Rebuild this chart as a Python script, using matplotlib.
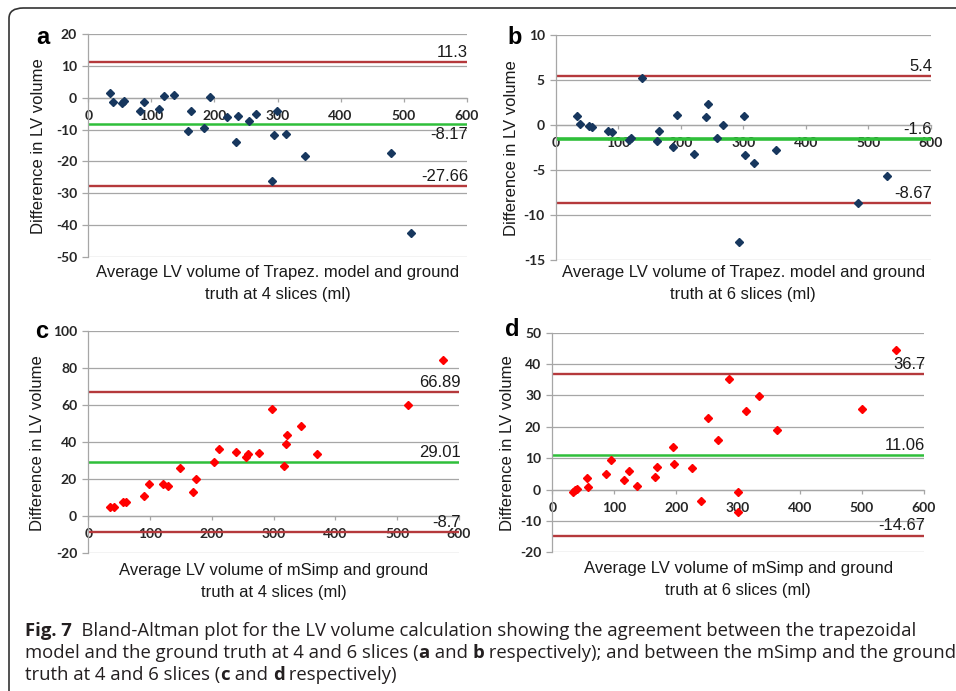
import matplotlib
matplotlib.use("Agg")
import matplotlib.pyplot as plt
from matplotlib import font_manager as fm
from matplotlib.patches import FancyBboxPatch

# ---------------- data ----------------
a_x = [34.4, 38.6, 52.9, 56.6, 81.9, 88.8, 112.0, 120.0, 135.9, 158.6, 163.3, 184.0, 193.0,
       219.4, 234.7, 236.8, 254.8, 265.4, 290.7, 294.4, 298.7, 312.9, 343.6, 479.4, 511.2]
a_y = [1.5, -1.4, -1.6, -0.9, -4.1, -1.2, -3.5, 0.7, 0.9, -10.4, -4.0, -9.5, 0.4,
       -6.0, -14.0, -5.6, -7.3, -5.2, -26.2, -11.6, -4.1, -11.3, -18.4, -17.5, -42.6]
a_lines = [11.3, -8.17, -27.66]

b_x = [34.2, 38.4, 52.8, 57.1, 82.7, 90.2, 117.4, 120.1, 137.7, 162.3, 165.5, 186.8, 193.2,
       221.0, 240.2, 242.9, 258.4, 268.0, 293.6, 300.5, 302.1, 317.1, 351.8, 483.6, 529.5]
b_y = [0.99, 0.06, -0.13, -0.27, -0.65, -0.79, -1.65, -1.42, 5.25, -1.79, -0.72, -2.43, 1.10,
       -3.28, 0.84, 2.32, -1.42, -0.02, -13.07, 1.02, -3.32, -4.21, -2.80, -8.66, -5.65]
b_lines = [5.4, -1.6, -8.67]

c_x = [35.6, 41.5, 56.7, 60.4, 90.1, 98.2, 121.4, 128.4, 148.9, 169.4, 174.8, 202.9, 211.0,
       239.6, 255.2, 258.5, 275.7, 296.8, 317.3, 320.0, 322.2, 343.7, 370.7, 517.5, 574.7]
c_y = [4.5, 4.5, 7.2, 7.4, 10.8, 17.1, 17.1, 16.0, 25.9, 13.0, 19.6, 28.8, 36.0,
       34.6, 31.5, 33.2, 33.9, 57.5, 26.7, 38.7, 43.4, 48.6, 33.5, 60.0, 84.3]
c_lines = [66.89, 29.01, -8.7]

d_x = [33.9, 37.1, 39.3, 55.4, 58.1, 87.2, 95.2, 115.7, 123.2, 136.1, 165.7, 169.5, 195.3,
       196.9, 225.5, 239.5, 251.3, 266.9, 285.2, 300.3, 299.7, 312.1, 334.2, 363.2, 500.4, 554.8]
d_y = [-0.77, -0.24, 0.18, 3.58, 0.82, 5.07, 9.42, 2.94, 5.81, 1.03, 4.11, 7.19, 13.57,
       8.15, 6.87, -3.64, 22.81, 15.8, 35.34, -0.67, -7.25, 25.1, 29.92, 19.1, 25.57, 44.48]
d_lines = [36.7, 11.06, -14.67]

x_ticks = [0, 100, 200, 300, 400, 500, 600]
y_label = "Difference in LV volume"
x_labels = [
    ("Average LV volume of Trapez. model and ground", "truth at 4 slices (ml)"),
    ("Average LV volume of Trapez. model and ground", "truth at 6 slices (ml)"),
    ("Average LV volume of mSimp and ground", "truth at 4 slices (ml)"),
    ("Average LV volume of mSimp and ground", "truth at 6 slices (ml)"),
]
panel_letters = ["a", "b", "c", "d"]

caption_lines = [
    [("Fig. 7", True), ("  Bland-Altman plot for the LV volume calculation showing the agreement between the trapezoidal", False)],
    [("model and the ground truth at 4 and 6 slices (", False), ("a", True), (" and ", False), ("b", True),
     (" respectively); and between the mSimp and the ground", False)],
    [("truth at 4 and 6 slices (", False), ("c", True), (" and ", False), ("d", True), (" respectively)", False)],
]

# ---------------- fonts ----------------
names = {f.name for f in fm.fontManager.ttflist}
def pick(*cands):
    for c in cands:
        if c in names:
            return c
    return "DejaVu Sans"
F_ARIAL = pick("Liberation Sans", "Arial", "DejaVu Sans")
F_TICK = pick("Lato", "Open Sans", "DejaVu Sans")
F_CAP = pick("Open Sans", "Noto Sans", "DejaVu Sans")

W, H = 956, 691
fig = plt.figure(figsize=(W / 100, H / 100), dpi=100)

def fx(px):
    return px / W
def fy(py):
    return 1 - py / H

# border
border = FancyBboxPatch((fx(9), fy(1000)), fx(1200), (1000 - 8) / H,
                        boxstyle="round,pad=0,rounding_size=0.015",
                        transform=fig.transFigure, fill=False, ec="#333333", lw=1.2,
                        clip_on=False)
fig.patches.append(border)

RED = "#B5393C"
GREEN = "#2FBF3A"
GRID = "#A6A6A6"

panels = [
    dict(x=a_x, y=a_y, lines=a_lines, rect=(88.3, 466.7, 34.3, 256.7), ylim=(-50, 20), step=10,
         color="#17375E", green_lw=1.8, below=[-8.17], ylab_x=39, letter=(43, 37),
         xl=(273, 295)),
    dict(x=b_x, y=b_y, lines=b_lines, rect=(556.0, 930.7, 35.0, 259.7), ylim=(-15, 10), step=5,
         color="#17375E", green_lw=2.6, below=[], ylab_x=512, letter=(515, 38),
         xl=(273, 295)),
    dict(x=c_x, y=c_y, lines=c_lines, rect=(88.3, 459.0, 330.7, 552.7), ylim=(-20, 100), step=20,
         color="#FF0000", green_lw=1.8, below=[], ylab_x=38, letter=(42, 331),
         xl=(570, 592)),
    dict(x=d_x, y=d_y, lines=d_lines, rect=(552.3, 924.0, 332.7, 552.3), ylim=(-20, 50), step=10,
         color="#FF0000", green_lw=1.8, below=[], ylab_x=507, letter=(512, 330),
         xl=(568, 590)),
]

for i, p in enumerate(panels):
    l, r, t, b = p["rect"]
    ax = fig.add_axes([fx(l), fy(b), fx(r - l), (b - t) / H])
    ax.set_xlim(0, 600)
    ax.set_ylim(*p["ylim"])
    yt = list(range(p["ylim"][0], p["ylim"][1] + 1, p["step"]))
    ax.set_yticks(yt)
    ax.set_xticks(x_ticks)
    ax.set_yticklabels([str(v) for v in yt])
    ax.set_xticklabels([str(v) for v in x_ticks])
    for s in ("top", "right"):
        ax.spines[s].set_visible(False)
    ax.spines["bottom"].set_position(("data", 0))
    for s in ("bottom", "left"):
        ax.spines[s].set_color(GRID)
        ax.spines[s].set_linewidth(0.9)
    ax.grid(axis="y", color=GRID, lw=0.9)
    ax.set_axisbelow(True)
    ax.tick_params(axis="y", length=4, width=0.9, color=GRID, pad=4,
                   labelsize=10, labelcolor="#262626")
    ax.tick_params(axis="x", length=3, width=0.9, color=GRID, pad=6,
                   labelsize=10, labelcolor="#262626")
    for lab in ax.get_xticklabels() + ax.get_yticklabels():
        lab.set_fontfamily(F_TICK)
        lab.set_fontweight("bold")

    hi, mean, lo = p["lines"]
    ax.axhline(hi, color=RED, lw=1.7, zorder=2)
    ax.axhline(lo, color=RED, lw=1.7, zorder=2)
    ax.axhline(mean, color=GREEN, lw=p["green_lw"], zorder=2)
    ax.plot(p["x"], p["y"], ls="none", marker="D", ms=3.8, color=p["color"], zorder=3,
            clip_on=False)

    for v in p["lines"]:
        if v in p["below"]:
            ax.annotate(f"{v:g}", (600, v), xytext=(1, -2), textcoords="offset points",
                        ha="right", va="top", fontsize=12, family=F_ARIAL, color="#1a1a1a")
        else:
            ax.annotate(f"{v:g}", (600, v), xytext=(1, 1.5), textcoords="offset points",
                        ha="right", va="bottom", fontsize=12, family=F_ARIAL, color="#1a1a1a")

    cx = (l + r) / 2
    fig.text(fx(cx), fy(p["xl"][0]), x_labels[i][0], ha="center", va="center",
             fontsize=12, family=F_ARIAL, color="#1a1a1a")
    fig.text(fx(cx), fy(p["xl"][1]), x_labels[i][1], ha="center", va="center",
             fontsize=12, family=F_ARIAL, color="#1a1a1a")
    fig.text(fx(p["ylab_x"]), fy((t + b) / 2 + 1), y_label, rotation=90, ha="center",
             va="center", fontsize=12, family=F_ARIAL, color="#1a1a1a")
    fig.text(fx(p["letter"][0]), fy(p["letter"][1]), panel_letters[i], ha="center",
             va="center", fontsize=17, fontweight="bold", family=F_ARIAL, color="black")

# ---------------- caption ----------------
renderer = fig.canvas.get_renderer()

def draw_line(segs, x0, ybase, size, measure_only=False):
    x = x0
    made = []
    for txt, bold in segs:
        tt = fig.text(fx(x), fy(ybase), txt, ha="left", va="baseline", fontsize=size,
                      family=F_CAP, fontweight="bold" if bold else "normal", color="#231F20")
        w = tt.get_window_extent(renderer).width
        x += w
        made.append(tt)
    if measure_only:
        for tt in made:
            tt.remove()
    return x - x0

size0 = 13.0
wid = draw_line(caption_lines[1], 25, 658, size0, measure_only=True)
size = size0 * 925.0 / wid
for segs, yb in zip(caption_lines, [636, 658, 680]):
    draw_line(segs, 25, yb, size)

fig.savefig("out.png", dpi=100)
